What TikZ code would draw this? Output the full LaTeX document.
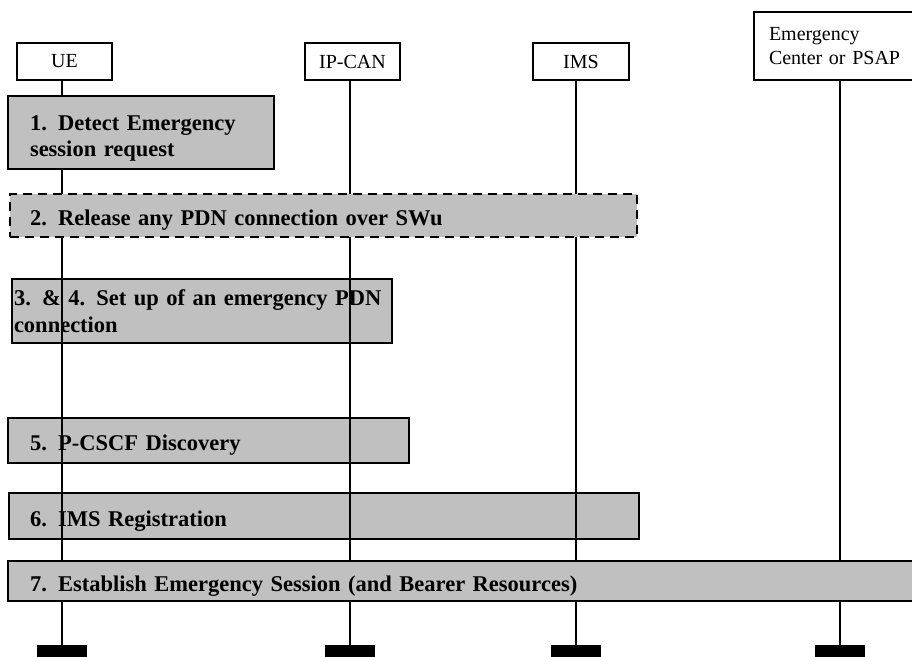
\documentclass[tikz,border=0pt]{standalone}
\usepackage{fontspec}
\setmainfont{Liberation Serif}
\definecolor{stepgray}{HTML}{C0C0C0}
\begin{document}
\begin{tikzpicture}[x=1pt,y=-1pt,
  entity/.style={draw,line width=2.4pt,fill=white,inner sep=0pt,font=\fontsize{20}{24}\selectfont},
  stepbox/.style={draw,line width=2.4pt,fill=stepgray,inner ysep=0pt,align=left,font=\bfseries\fontsize{22.5}{26.5}\selectfont},
  oneline/.style={text height=20pt,text depth=0pt},
  foot/.style={fill=black,inner sep=0pt,minimum width=50pt,minimum height=12pt},
  life/.style={line width=2.4pt}]
  \useasboundingbox (0,0) rectangle (912,656);
  \clip (0,0) rectangle (912,656);
  \node[entity,minimum width=95pt,minimum height=37pt] (ue) at (64.5,61.5) {UE};
  \node[entity,minimum width=95pt,minimum height=37pt] (ipcan) at (352.5,61.5) {IP-CAN};
  \node[entity,minimum width=96pt,minimum height=37pt] (ims) at (581,61.5) {IMS};
  \node[entity,minimum width=162pt,minimum height=68pt,text width=132pt,inner xsep=15pt,align=left] (psap) at (835,46) {Emergency\\Center or PSAP};
  \node[foot] (ue-end) at (62,651) {};
  \node[foot] (ipcan-end) at (350,651) {};
  \node[foot] (ims-end) at (576,651) {};
  \node[foot] (psap-end) at (840,651) {};
  % steps that the lifelines run across
  \node[stepbox,minimum width=380pt,minimum height=64pt,inner xsep=2pt,text width=376pt] (s34) at (202,311) {3. \& 4. Set up of an emergency PDN\\connection};
  \node[stepbox,oneline,minimum width=401pt,minimum height=45pt,inner xsep=22pt,text width=357pt] (s5) at (208.5,440.5) {5. P-CSCF Discovery};
  \node[stepbox,oneline,minimum width=630pt,minimum height=46pt,inner xsep=21pt,text width=588pt] (s6) at (324,516) {6. IMS Registration};
  \draw[life] (ue-end.north) -- (ue-end.north |- ue.south);
  \draw[life] (ipcan-end.north) -- (ipcan-end.north |- ipcan.south);
  \draw[life] (ims-end.north) -- (ims-end.north |- ims.south);
  \draw[life] (psap-end.north) -- (psap-end.north |- psap.south);
  % steps that hide the lifelines
  \node[stepbox,text height=16pt,text depth=21pt,minimum width=266pt,minimum height=73pt,inner xsep=22pt,text width=222pt] (s1) at (141,132.5) {1. Detect Emergency\\session request};
  \node[stepbox,oneline,dash pattern=on 9pt off 6pt,minimum width=627pt,minimum height=43pt,inner xsep=20pt,text width=587pt] (s2) at (323.5,215.5) {2. Release any PDN connection over SWu};
  \node[stepbox,oneline,minimum width=908pt,minimum height=40pt,inner xsep=22pt,text width=864pt] (s7) at (462,581) {7. Establish Emergency Session (and Bearer Resources)};
\end{tikzpicture}
\end{document}
